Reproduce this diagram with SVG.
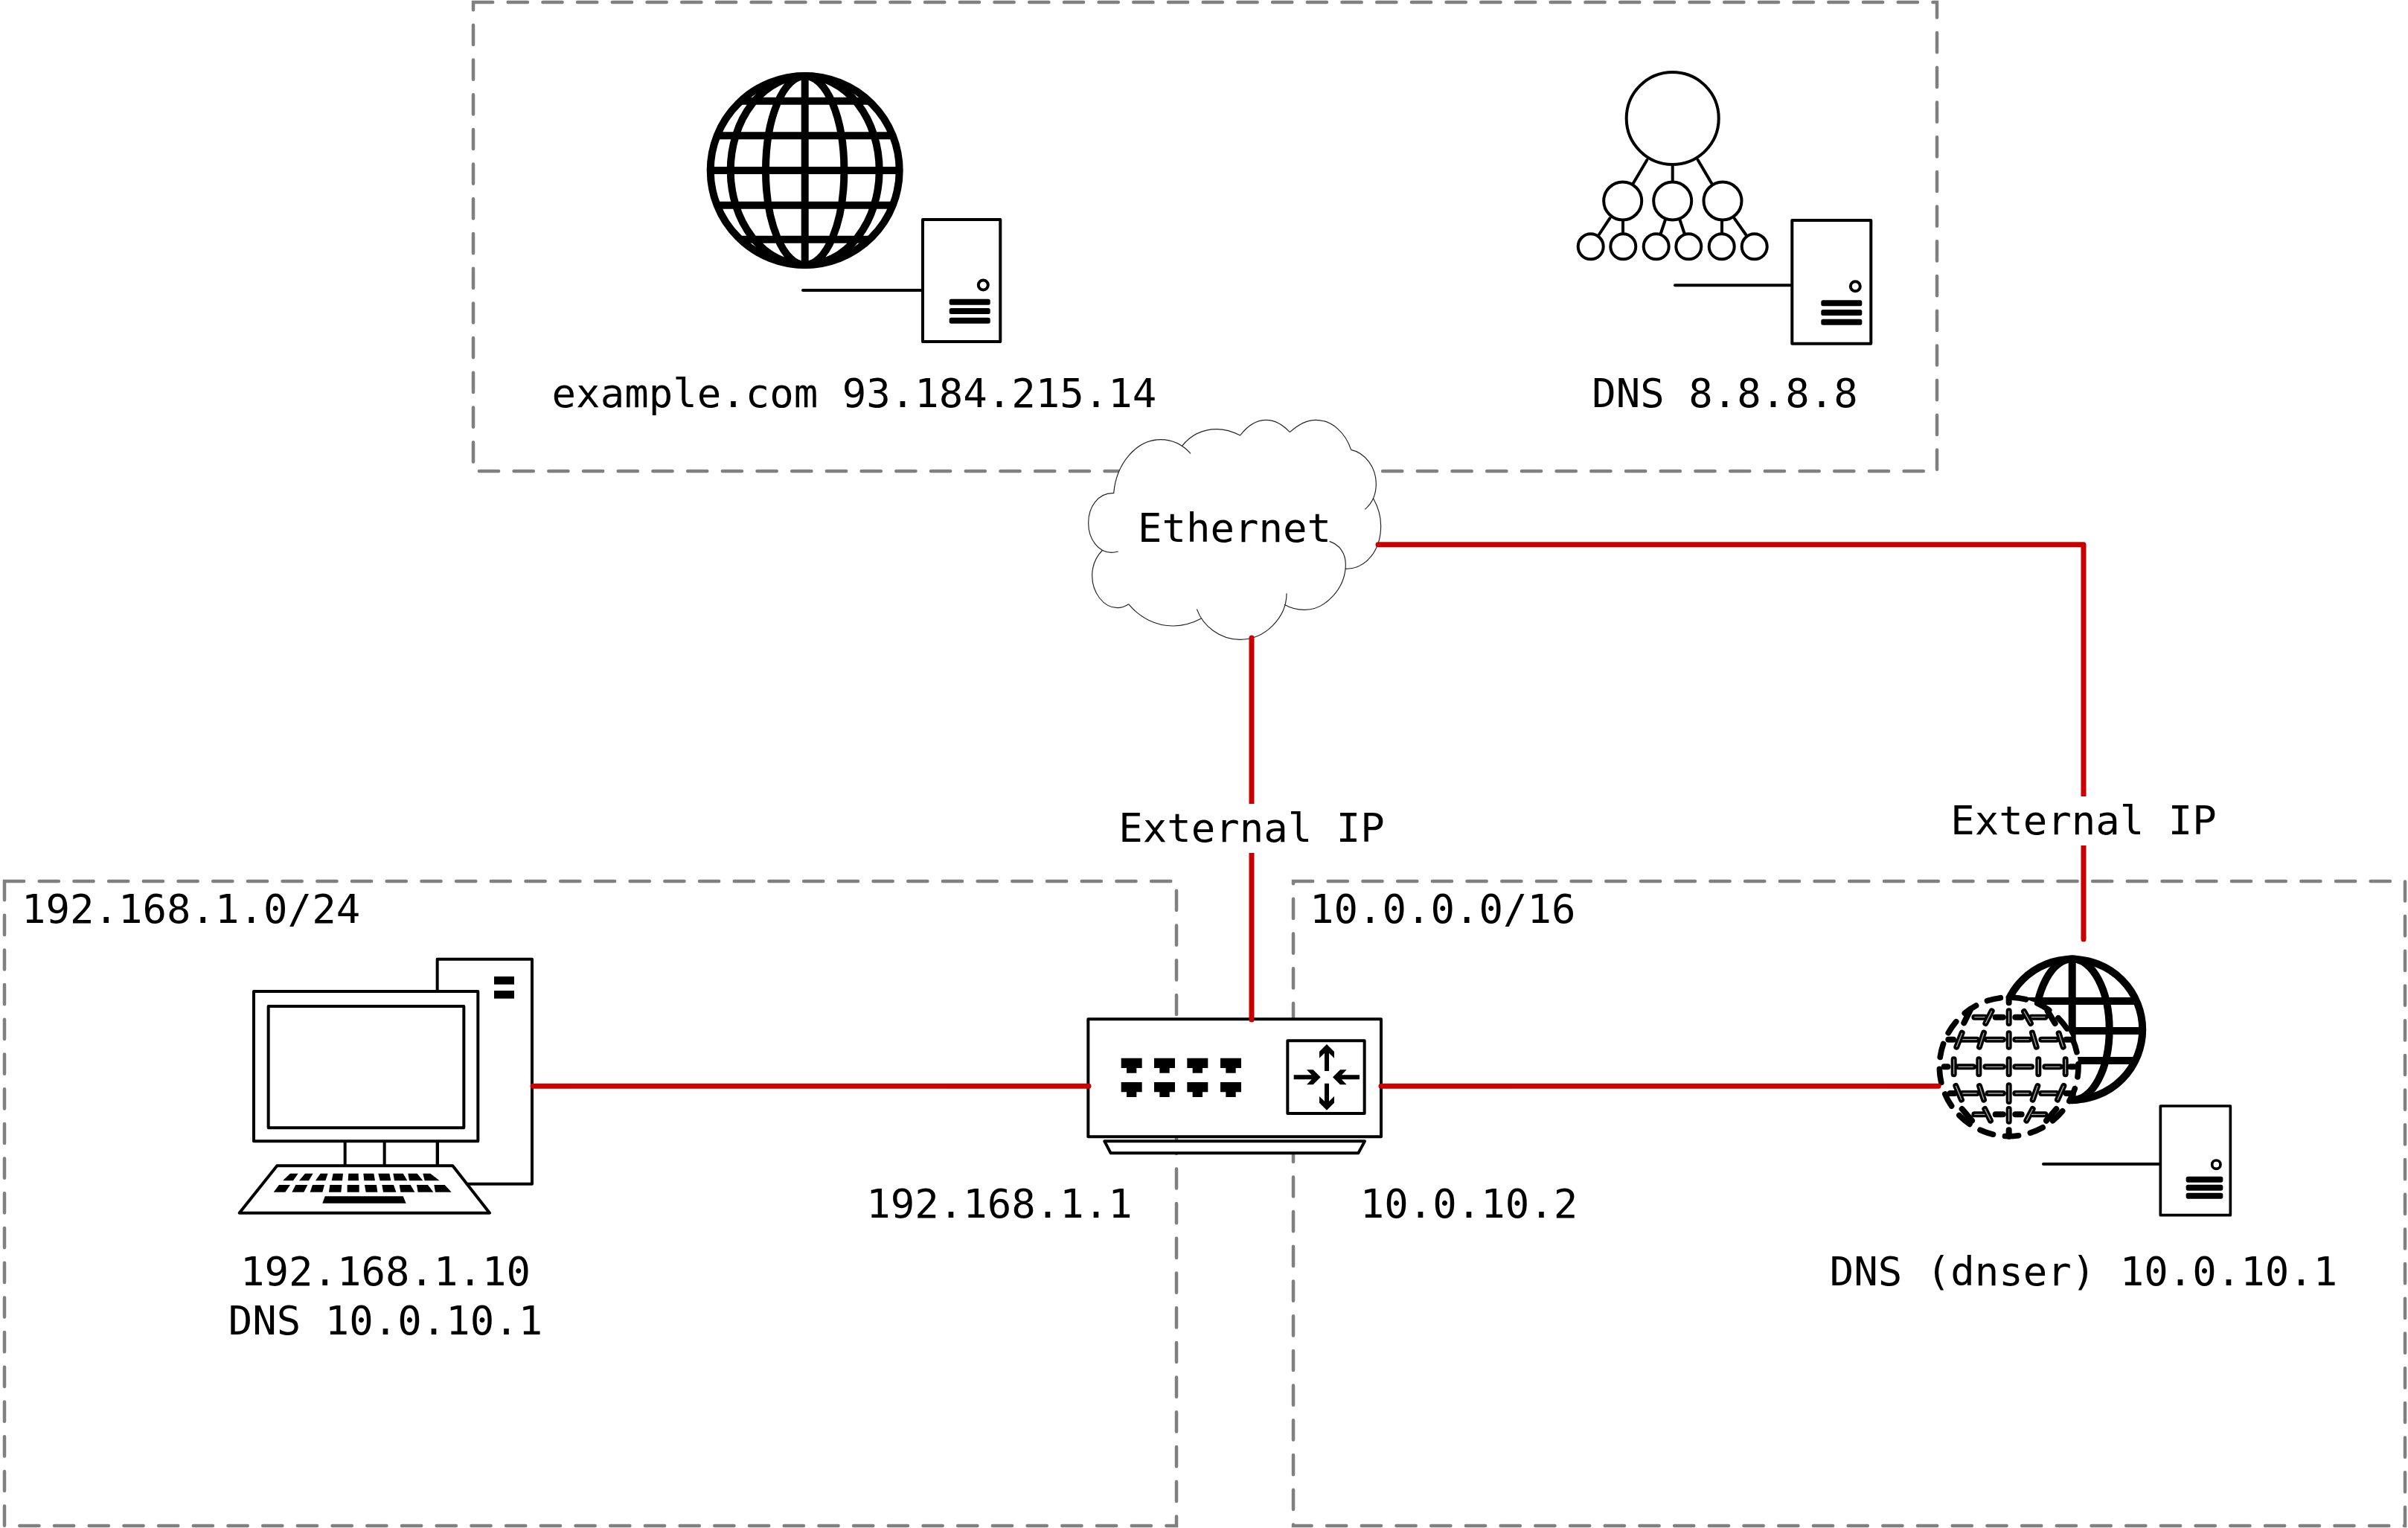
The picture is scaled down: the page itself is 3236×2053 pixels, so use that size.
<svg xmlns="http://www.w3.org/2000/svg" width="3236" height="2053" viewBox="0 0 3236 2053">
<style>
text{font-family:"DejaVu Sans Mono",monospace;font-size:54px;fill:#000}
.m{text-anchor:middle}
.box{fill:none;stroke:#808080;stroke-width:4.5;stroke-linecap:round;stroke-dasharray:26.2 20.5}
.wire{fill:none;stroke:#c80000;stroke-width:7;stroke-linecap:round;stroke-linejoin:round}
.ln{fill:#fff;stroke:#000;stroke-width:4;stroke-linecap:round;stroke-linejoin:round}
.nf{fill:none}
.gl{fill:#fff;stroke:#000;stroke-width:10}
.gn{fill:none;stroke:#000;stroke-width:10}
.z{fill:#fff;stroke:#000;stroke-width:12;stroke-linecap:round;stroke-linejoin:round}
.bar{fill:#000;stroke:none}
.cl{fill:none;stroke:#222;stroke-width:3.5}
.dsh{fill:none;stroke:#000;stroke-width:24;stroke-linecap:round}
.dsi{fill:none;stroke:#aaa;stroke-width:4;stroke-linecap:butt}
</style>
<defs>
<path id="port" class="bar" d="M0,0H84V40H62V60H22V40H0Z"/>
<path id="arrow" class="bar" d="M-9,0V-72L-30,-52V-78L0,-108L30,-78V-52L9,-72V0Z"/>
</defs>
<g id="boxes">
<rect class="box" x="636" y="3" width="1967" height="630"/>
<rect class="box" x="6" y="1184" width="1575" height="866"/>
<rect class="box" x="1738" y="1184" width="1494" height="866"/>
</g>
<g id="web-server">
<circle class="gl" cx="1081.7" cy="229" r="127"/>
<path class="gn" d="M1081.7,102V356M1029,229a52.7,127 0 1 0 105.4,0a52.7,127 0 1 0 -105.4,0M981.7,229a100,127 0 1 0 200,0a100,127 0 1 0 -200,0M994.9,135.7H1168.5M963.7,182.3H1199.7M954.7,229H1208.7M963.7,275.7H1199.7M994.9,321.7H1168.5"/>
<path class="ln nf" d="M1079,390H1240"/>
<rect class="ln" x="1240" y="295" width="104.3" height="164"/>
<circle class="ln" cx="1321.3" cy="383" r="6.5"/>
<rect class="bar" x="1275.7" y="401.7" width="55" height="8" rx="2.5"/>
<rect class="bar" x="1275.7" y="414" width="55" height="8" rx="2.5"/>
<rect class="bar" x="1275.7" y="426.7" width="55" height="8" rx="2.5"/>
<text class="m" x="1148" y="547">example.com 93.184.215.14</text>
</g>
<g id="public-dns">
<g class="ln">
<path class="nf" d="M2213.3,215L2195,246M2247.7,223.3V242.7M2281.7,215L2300,246M2163.3,293.3L2148.3,316M2181,296.7V313.3M2237.7,296L2231.7,314M2257.7,296L2263.7,314M2314,296.7V313.3M2330.7,293.3L2346.7,316"/>
<circle cx="2247.7" cy="159" r="62"/>
<circle cx="2180.7" cy="270" r="25.5"/><circle cx="2247.7" cy="270" r="25.5"/><circle cx="2315" cy="270" r="25.5"/>
<circle cx="2137.7" cy="331.3" r="17"/><circle cx="2181.3" cy="331.3" r="17"/><circle cx="2225.7" cy="331.3" r="17"/><circle cx="2269.3" cy="331.3" r="17"/><circle cx="2313.7" cy="331.3" r="17"/><circle cx="2357.7" cy="331.3" r="17"/>
<path class="nf" d="M2251,383.3H2408"/>
<rect x="2408.3" y="296" width="106" height="165.7"/>
<circle cx="2493.3" cy="384.7" r="6.5"/>
</g>
<rect class="bar" x="2447.3" y="403.3" width="55" height="8" rx="2.5"/>
<rect class="bar" x="2447.3" y="416" width="55" height="8" rx="2.5"/>
<rect class="bar" x="2447.3" y="428.7" width="55" height="8" rx="2.5"/>
<text class="m" x="2318" y="547">DNS 8.8.8.8</text>
</g>
<g id="ethernet">
<g transform="translate(1420 540) scale(.33333)">
<path fill="#fff" d="M230,368C240,250 320,152 420,152C455,152 480,160 505,178C540,135 590,110 645,110C680,110 710,120 740,135C770,95 805,73 845,73C885,73 915,95 940,122C975,90 1010,73 1045,73C1110,73 1165,125 1187,193C1245,205 1288,265 1288,330C1288,350 1284,370 1277,390C1297,425 1307,460 1307,500C1307,595 1250,673 1165,673C1150,770 1085,838 1000,838C970,838 940,830 918,817C880,900 820,958 738,958C680,958 620,925 583,873C545,893 505,903 470,903C400,903 335,870 290,815C275,825 260,830 245,830C190,830 143,770 143,700C143,660 158,625 185,597C150,580 128,540 128,488C128,420 170,368 225,368Z"/>
<path class="cl" d="M230,368C240,250 320,152 420,152C470,152 510,175 540,208M505,178C540,135 590,110 645,110C680,110 710,120 740,135M740,135C770,95 805,73 845,73C885,73 915,95 940,122M940,122C975,90 1010,73 1045,73C1110,73 1165,125 1187,193M1187,193C1245,205 1288,265 1288,330C1288,375 1270,410 1243,433M1277,390C1297,425 1307,460 1307,500C1307,595 1250,673 1165,673M1100,562C1140,575 1165,610 1165,655C1165,750 1085,838 1000,838C970,838 940,830 918,817M927,772C927,870 840,958 738,958C660,958 590,905 565,835M583,873C545,893 505,903 470,903C400,903 335,870 290,815M290,815C275,825 260,830 245,830C190,830 143,770 143,700C143,660 158,625 185,597M248,603C238,606 230,607 220,607C170,607 128,555 128,488C128,420 170,368 225,368L230,368"/>
</g>
<text class="m" x="1659" y="728">Ethernet</text>
</g>
<g id="client">
<g transform="translate(300 1260) scale(.33333)">
<rect class="z" x="863" y="86" width="382" height="906"/>
<rect class="bar" x="1092" y="156" width="81" height="32"/>
<rect class="bar" x="1092" y="213" width="81" height="32"/>
<path class="z" d="M491,820V915M650,820V915M864,820V915"/>
<rect class="z" x="123" y="216" width="904" height="604"/>
<rect class="z" x="182" y="276" width="788" height="490"/>
<path class="z" d="M217,919H925L1074,1109H65Z"/>
<path class="bar" d="M270,950H302L282,979H240ZM330,950H362L345,979H306ZM392,950H422L412,979H372ZM443,950H483L480,979H437ZM505,950H545L546,979H503ZM565,950H607L612,979H568ZM625,950H670L676,979H632ZM685,950H725L742,979H690ZM745,950H782L805,979H750ZM805,950H835L872,979H812Z"/>
<path class="bar" d="M225,996H270L250,1025H203ZM292,996H340L325,1025H277ZM360,996H408L400,1025H350ZM430,996H478L475,1025H426ZM500,996H548V1025H500ZM570,996H618L622,1025H575ZM640,996H687L697,1025H645ZM710,996H755L772,1025H715ZM780,996H825L847,1025H785ZM850,996H893L920,1025H855Z"/>
<path class="bar" d="M410,1042H725L737,1070H400Z"/>
</g>
<text class="m" x="518" y="1727">192.168.1.10</text>
<text class="m" x="518" y="1793">DNS 10.0.10.1</text>
</g>
<g id="router">
<g transform="translate(1440 1340) scale(.33333)">
<rect class="z" x="67" y="88" width="1181" height="474"/>
<path class="z" d="M133,580H1182L1156,628H158Z"/>
<rect class="z" x="871" y="175" width="310" height="293"/>
<use href="#port" x="200" y="245"/><use href="#port" x="333" y="245"/><use href="#port" x="466" y="245"/><use href="#port" x="600" y="245"/>
<use href="#port" x="200" y="342"/><use href="#port" x="333" y="342"/><use href="#port" x="466" y="342"/><use href="#port" x="600" y="342"/>
<use href="#arrow" transform="translate(1029 297)"/>
<use href="#arrow" transform="translate(1029 347) rotate(180)"/>
<use href="#arrow" transform="translate(896 322) rotate(90)"/>
<use href="#arrow" transform="translate(1161 322) rotate(-90)"/>
</g>
<text class="m" x="1343" y="1636">192.168.1.1</text>
<text class="m" x="1974" y="1636">10.0.10.2</text>
</g>
<g id="dnser">
<circle class="gl" cx="2784.7" cy="1383.3" r="94.5"/>
<path class="gn" d="M2784.7,1288V1478M2734.7,1383.3a50,95 0 1 0 100,0a50,95 0 1 0 -100,0M2700,1345H2870M2695,1385H2875M2700,1425H2870"/>
<g transform="translate(2580 1260) scale(.33333)">
<circle cx="359" cy="520" r="280" fill="#fff"/>
<circle cx="359" cy="520" r="280" fill="none" stroke="#000" stroke-width="23" stroke-linecap="round" stroke-dasharray="55 48.5" stroke-dashoffset="14"/>
<path class="dsh" d="M98,520H112M155,520H215M265,520H335M385,520H450M505,520H565M608,520H622M115,410H135M172,410H230M270,410H335M385,410H440M490,410H550M590,410H610M122,627H140M172,627H230M275,627H335M385,627H440M490,627H550M590,627H605M220,320H262M305,320H335M385,320H410M450,320H505M220,712H262M305,712H335M385,712H410M450,712H505M359,243V262M359,295V345M359,385V440M359,490V550M359,595V660M359,690V740M359,775V800M238,490V550M478,490V550M137,490V550M587,490V550M258,383L240,440M453,383L470,440M240,597L258,653M475,597L455,653M290,295L265,345M420,297L447,345M262,690L285,737M455,690L430,737M170,383L148,440M560,385L578,440M145,597L168,653M580,597L555,653M205,288L178,343M515,295L545,345M170,690L210,737M550,690L510,737"/>
<path class="dsi" d="M155,520H215M265,520H335M385,520H450M505,520H565M172,410H230M270,410H335M385,410H440M490,410H550M172,627H230M275,627H335M385,627H440M490,627H550M220,320H262M450,320H505M220,712H262M450,712H505M359,295V345M359,385V440M359,490V550M359,595V660M359,690V740M238,490V550M478,490V550M137,490V550M587,490V550M258,383L240,440M453,383L470,440M240,597L258,653M475,597L455,653M290,295L265,345M420,297L447,345M262,690L285,737M455,690L430,737M170,383L148,440M560,385L578,440M145,597L168,653M580,597L555,653"/>
<path class="ln nf" style="stroke-width:12" d="M498,912H970"/>
<rect class="z" style="stroke-width:11" x="970" y="678" width="282" height="440"/>
<circle class="z" style="stroke-width:11" cx="1195" cy="914" r="17"/>
<rect class="bar" x="1073" y="962" width="149" height="24" rx="8"/>
<rect class="bar" x="1073" y="995" width="149" height="24" rx="8"/>
<rect class="bar" x="1073" y="1028" width="149" height="24" rx="8"/>
</g>
<text class="m" x="2800" y="1727">DNS (dnser) 10.0.10.1</text>
</g>
<g id="connectors">
<path class="wire" d="M716,1459.3H1463"/>
<path class="wire" d="M1856,1459.3H2605"/>
<path class="wire" d="M1682,857V1370"/>
<path class="wire" d="M1852,731.7H2800V1262"/>
</g>
<g id="connector-labels">
<rect x="1500" y="1080" width="364" height="66" fill="#fff"/>
<text class="m" x="1682" y="1131">External IP</text>
<rect x="2618" y="1070" width="364" height="66" fill="#fff"/>
<text class="m" x="2800" y="1121">External IP</text>
<text x="29" y="1240">192.168.1.0/24</text>
<text x="1760" y="1240">10.0.0.0/16</text>
</g>
</svg>
